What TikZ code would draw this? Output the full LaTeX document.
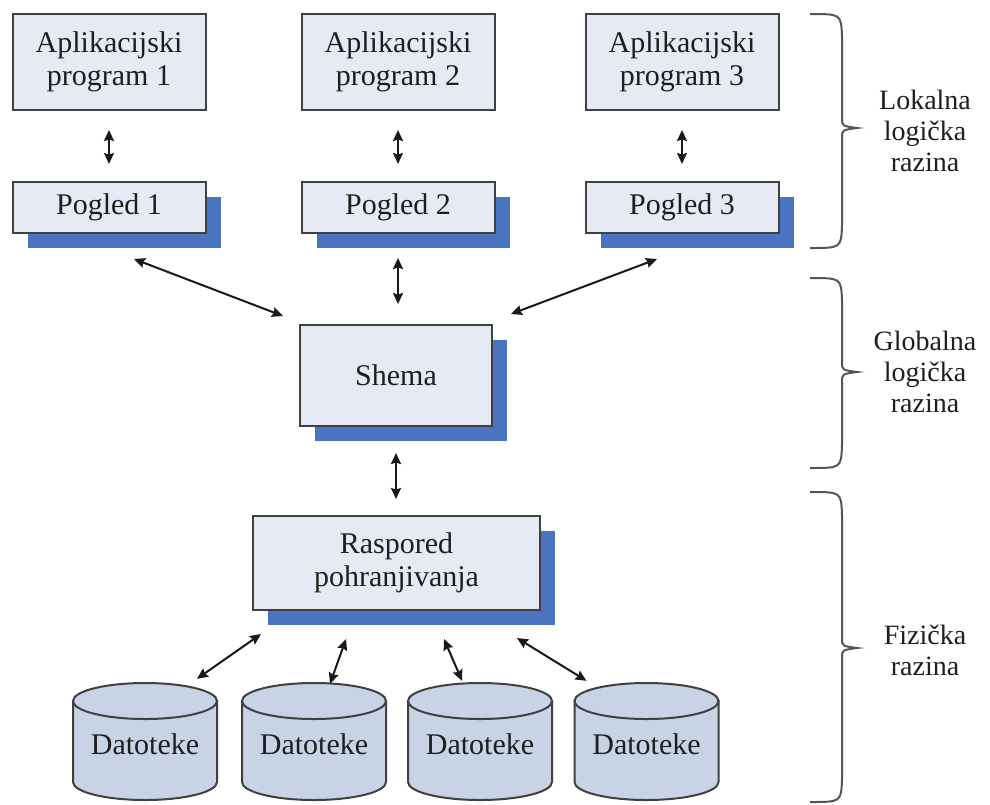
\documentclass[tikz,border=0pt]{standalone}
\usepackage{fontspec}
\setmainfont{Liberation Serif}
\usetikzlibrary{arrows.meta,calc,shadows}
\definecolor{boxfill}{HTML}{E6EAF5}
\definecolor{shadowblue}{HTML}{4A74C0}
\definecolor{cylfill}{HTML}{C8D4E5}
\definecolor{edgegray}{HTML}{404040}
\definecolor{txt}{HTML}{1E1E1E}
\definecolor{bracegray}{HTML}{555555}
\begin{document}
\begin{tikzpicture}[x=1pt,y=-1pt,
  box/.style={draw=edgegray, line width=2pt, fill=boxfill, text=txt,
    font=\fontsize{30}{33}\selectfont, align=center, inner sep=0pt,
    minimum width=193pt},
  shadowed/.style={drop shadow={shadow xshift=15pt, shadow yshift=-15pt,
    fill=shadowblue, opacity=1}},
  cylbody/.style={draw=edgegray, line width=2pt, fill=cylfill},
  cyllabel/.style={text=txt, font=\fontsize{30}{33}\selectfont, inner sep=0pt,
    minimum width=144pt, minimum height=110pt},
  lvl/.style={text=txt, font=\fontsize{28}{31}\selectfont, align=center},
  arr/.style={draw=black!90, line width=2pt,
    {Stealth[length=11pt,width=10pt,inset=1.5pt]}-{Stealth[length=11pt,width=10pt,inset=1.5pt]}},
  bracepath/.style={draw=bracegray, line width=2pt}
]
\useasboundingbox (0,0) rectangle (990,804);

% application programs
\node[box, minimum height=96pt] (a1) at (109,62) {Aplikacijski\\program 1};
\node[box, minimum height=96pt] (a2) at (398,62) {Aplikacijski\\program 2};
\node[box, minimum height=96pt] (a3) at (682,62) {Aplikacijski\\program 3};

% views
\node[box, shadowed, minimum height=51pt] (p1) at (109,207.5) {Pogled 1};
\node[box, shadowed, minimum height=51pt] (p2) at (398,207.5) {Pogled 2};
\node[box, shadowed, minimum height=51pt] (p3) at (682,207.5) {Pogled 3};

% schema
\node[box, shadowed, minimum width=192pt, minimum height=101pt] (shema) at (396,375.5) {Shema};

% storage layout
\node[box, shadowed, minimum width=287pt, minimum height=94pt] (rasp) at (396.5,563) {Raspored\\pohranjivanja};

% cylinders
\foreach \cx/\nm in {145/d1,314/d2,480/d3,646.5/d4}{
  \path[cylbody] (\cx-72,701) -- (\cx-72,782)
     arc[start angle=180, end angle=0, x radius=72, y radius=18]
     -- (\cx+72,701) -- cycle;
  \path[cylbody] (\cx,701) ellipse[x radius=72, y radius=18];
  \node[cyllabel] (\nm) at (\cx,744) {Datoteke};
}

% arrows
\draw[arr, shorten <=19pt, shorten >=17pt] (a1.south) -- (p1.north);
\draw[arr, shorten <=19pt, shorten >=17pt] (a2.south) -- (p2.north);
\draw[arr, shorten <=19pt, shorten >=17pt] (a3.south) -- (p3.north);

\draw[arr] ($(p1.south)+(25,25)$) -- ($(shema.north west)+(-16,-8)$);
\draw[arr, shorten <=24pt, shorten >=20pt] (p2.south) -- (p2.south |- shema.north);
\draw[arr] ($(p3.south)+(-25,25)$) -- ($(shema.north east)+(18,-10)$);

\draw[arr, shorten <=26pt, shorten >=16pt] (shema.south) -- (shema.south |- rasp.north);

\draw[arr] ($(rasp.south west)+(9,23)$) -- ($(d1.north)+(52,-10)$);
\draw[arr] ($(rasp.south west)+(94,28)$) -- ($(d2.north)+(16,-5)$);
\draw[arr] ($(rasp.south west)+(192,28)$) -- ($(d3.north)+(-18,-8)$);
\draw[arr] ($(rasp.south west)+(265,27)$) -- ($(d4.north)+(-60,-8)$);

% braces
\path[bracepath] (810,14) .. controls (841,14) .. (842,36) -- (842,118)
  .. controls (842,126) .. (857,128) .. controls (842,130) .. (842,138)
  -- (842,226) .. controls (841,248) .. (810,248);
\path[bracepath] (810,278) .. controls (841,278) .. (842,300) -- (842,362)
  .. controls (842,370) .. (857,372) .. controls (842,374) .. (842,382)
  -- (842,446) .. controls (841,468) .. (810,468);
\path[bracepath] (810,492) .. controls (841,492) .. (842,514) -- (842,638)
  .. controls (842,646) .. (857,648) .. controls (842,650) .. (842,658)
  -- (842,780) .. controls (841,802) .. (810,802);

% level labels
\node[lvl] (l1) at (925,131) {Lokalna\\logička\\razina};
\node[lvl] (l2) at (925,372) {Globalna\\logička\\razina};
\node[lvl] (l3) at (925,650) {Fizička\\razina};
\end{tikzpicture}
\end{document}
